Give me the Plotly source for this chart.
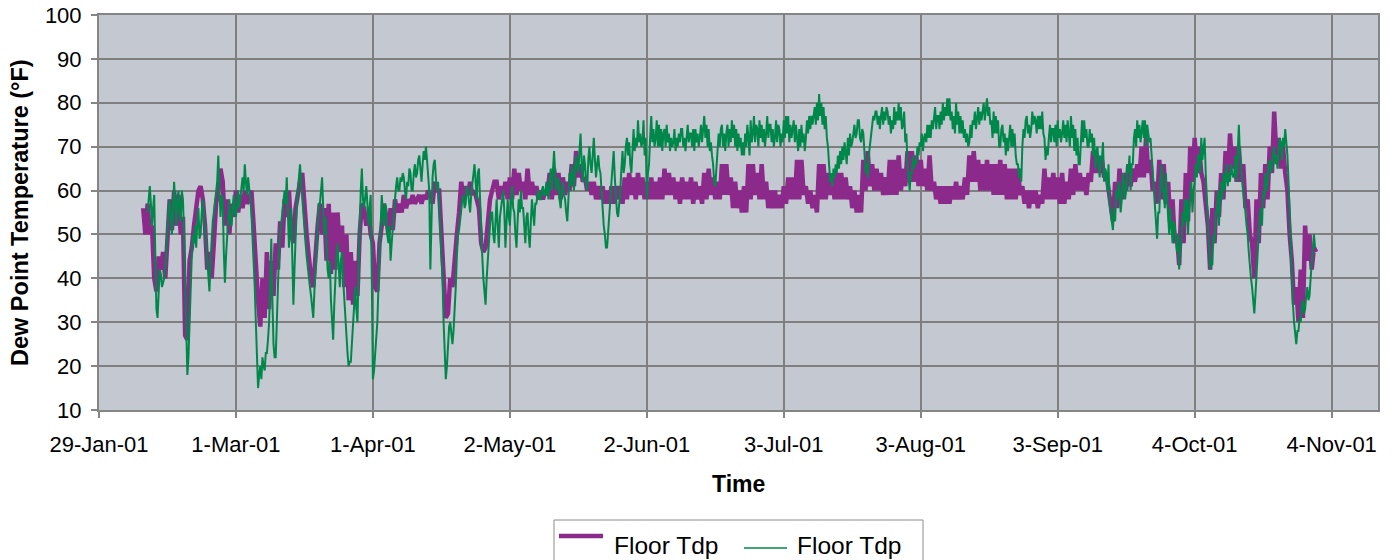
import pandas as pd
import plotly.graph_objects as go

# Two dew point records: the thick trace every 12 hours, the thin one every 6 hours
purple_start = "2001-02-08 00:00"
purple_step = "12h"
green_start = "2001-02-09 00:00"
green_step = "6h"

floor_tdp_purple = [
    56, 50, 57, 50, 52, 40, 37, 45, 42, 46,
    40, 52, 58, 51, 60, 52, 59, 50, 54, 27,
    26, 44, 47, 52, 56, 60, 61, 58, 52, 42,
    46, 40, 48, 57, 60, 65, 62, 52, 58, 50,
    57, 54, 60, 55, 59, 56, 60, 57, 58, 60,
    52, 42, 35, 29, 40, 31, 46, 33, 44, 36,
    48, 42, 53, 47, 58, 54, 60, 50, 48, 56,
    60, 62, 64, 55, 50, 45, 40, 38, 47, 52,
    57, 50, 56, 44, 57, 41, 55, 42, 55, 46,
    52, 38, 50, 35, 46, 34, 44, 36, 50, 57,
    56, 52, 55, 50, 48, 38, 37, 48, 52, 57,
    54, 50, 56, 51, 58, 55, 57, 55, 59, 56,
    58, 57, 59, 57, 58, 59, 57, 59, 58, 60,
    59, 57, 62, 60, 60, 51, 40, 31, 32, 40,
    38, 46, 50, 55, 62, 58, 61, 59, 62, 59,
    60, 58, 56, 48, 46, 47, 52, 58, 60, 62,
    62, 58, 61, 59, 62, 58, 63, 58, 65, 59,
    64, 60, 62, 58, 65, 59, 62, 59, 61, 58,
    60, 58, 60, 59, 64, 58, 65, 59, 64, 58,
    63, 59, 62, 60, 66, 61, 69, 63, 66, 62,
    63, 60, 62, 59, 62, 58, 61, 58, 61, 57,
    60, 57, 61, 57, 61, 58, 61, 57, 63, 58,
    64, 59, 63, 58, 64, 59, 63, 58, 62, 58,
    63, 58, 62, 58, 63, 58, 65, 59, 64, 59,
    63, 58, 62, 57, 63, 58, 62, 58, 63, 57,
    62, 58, 61, 57, 64, 58, 65, 59, 63, 58,
    62, 58, 66, 59, 66, 59, 63, 56, 62, 56,
    60, 55, 61, 55, 66, 58, 66, 59, 64, 58,
    66, 58, 62, 56, 60, 56, 60, 56, 59, 56,
    61, 57, 63, 58, 63, 58, 67, 58, 67, 59,
    61, 57, 60, 56, 59, 55, 66, 58, 66, 58,
    64, 59, 63, 58, 64, 58, 64, 58, 63, 58,
    61, 56, 60, 55, 59, 55, 67, 60, 69, 61,
    66, 60, 65, 60, 64, 59, 63, 59, 67, 59,
    67, 59, 68, 60, 65, 61, 69, 62, 69, 62,
    68, 61, 67, 61, 65, 60, 68, 60, 62, 58,
    61, 57, 61, 57, 61, 57, 61, 58, 62, 58,
    61, 58, 63, 59, 68, 62, 69, 62, 67, 60,
    66, 60, 67, 60, 66, 59, 66, 59, 67, 59,
    66, 58, 65, 58, 65, 58, 65, 59, 61, 57,
    60, 56, 60, 57, 60, 56, 59, 57, 65, 58,
    63, 58, 64, 58, 63, 57, 64, 57, 62, 58,
    65, 59, 66, 60, 64, 60, 63, 59, 64, 62,
    69, 64, 68, 64, 67, 63, 64, 60, 57, 53,
    62, 56, 65, 58, 64, 60, 66, 61, 65, 62,
    66, 63, 70, 63, 72, 64, 67, 60, 62, 57,
    67, 58, 66, 57, 62, 52, 58, 48, 50, 43,
    58, 48, 64, 53, 70, 62, 72, 64, 70, 64,
    62, 56, 52, 42, 56, 48, 60, 54, 64, 58,
    69, 62, 73, 65, 70, 62, 70, 62, 66, 56,
    58, 50, 48, 40, 58, 48, 64, 56, 66, 58,
    70, 64, 78, 68, 72, 65, 70, 64, 60, 50,
    44, 34, 38, 30, 42, 31, 52, 44, 50, 42,
    47, 46,
]

floor_tdp_green = [
    55, 58, 61, 57, 52, 56, 59, 45,
    33, 31, 38, 42, 41, 38, 39, 40,
    42, 47, 52, 56, 58, 53, 50, 56,
    62, 57, 52, 58, 60, 55, 53, 60,
    58, 50, 40, 26, 18, 22, 30, 40,
    45, 50, 48, 52, 47, 53, 56, 49,
    50, 55, 58, 54, 52, 48, 45, 40,
    37, 44, 50, 53, 55, 58, 60, 62,
    68, 60, 54, 59, 58, 46, 39, 45,
    50, 55, 58, 53, 52, 56, 59, 55,
    54, 57, 60, 56, 58, 61, 63, 60,
    66, 62, 59, 63, 61, 58, 55, 50,
    45, 38, 30, 22, 15, 18, 20, 17,
    22, 20, 19, 23, 23, 26, 30, 38,
    49, 35, 25, 22, 22, 30, 40, 46,
    50, 53, 55, 58, 60, 57, 63, 55,
    47, 52, 56, 45, 34, 42, 50, 56,
    60, 64, 66, 62, 58, 55, 52, 48,
    45, 42, 40, 38, 36, 33, 31, 37,
    42, 48, 55, 57, 57, 60, 63, 56,
    50, 54, 45, 42, 40, 44, 35, 30,
    26, 34, 42, 45, 48, 42, 38, 44,
    46, 40, 35, 30, 28, 23, 20, 21,
    21, 25, 30, 34, 38, 33, 30, 42,
    55, 60, 65, 58, 56, 59, 61, 57,
    52, 56, 59, 40, 17, 19, 22, 26,
    30, 38, 45, 55, 59, 55, 52, 57,
    56, 50, 48, 52, 44, 48, 52, 56,
    58, 61, 63, 60, 60, 63, 62, 64,
    63, 60, 58, 62, 61, 65, 64, 60,
    60, 64, 66, 63, 64, 67, 68, 65,
    62, 66, 69, 67, 70, 67, 64, 60,
    42, 55, 63, 66, 67, 63, 60, 62,
    56, 52, 48, 40, 30, 22, 17, 20,
    26, 29, 30, 27, 25, 28, 32, 38,
    45, 50, 51, 54, 55, 58, 59, 56,
    57, 61, 60, 57, 55, 59, 62, 64,
    66, 62, 58, 64, 65, 58, 50, 45,
    40, 36, 34, 40, 45, 50, 52, 55,
    55, 50, 48, 53, 58, 52, 47, 54,
    56, 59, 60, 55, 47, 53, 58, 54,
    52, 57, 61, 56, 55, 50, 47, 53,
    58, 55, 60, 56, 56, 52, 48, 54,
    55, 50, 47, 53, 58, 55, 52, 57,
    57, 59, 60, 58, 58, 60, 61, 59,
    59, 62, 60, 58, 62, 65, 60, 64,
    69, 64, 60, 62, 63, 58, 56, 60,
    62, 59, 58, 55, 53, 58, 64, 61,
    66, 63, 60, 65, 68, 65, 64, 69,
    73, 66, 62, 68, 66, 62, 60, 67,
    70, 66, 64, 68, 72, 67, 63, 66,
    68, 65, 64, 60, 55, 52, 50, 47,
    47, 50, 53, 58, 62, 66, 69, 63,
    58, 55, 54, 57, 60, 65, 69, 64,
    66, 70, 72, 68, 71, 66, 64, 69,
    74, 69, 72, 70, 76, 71, 73, 70,
    71, 76, 68, 72, 58, 64, 66, 72,
    77, 71, 74, 70, 72, 76, 70, 75,
    70, 74, 69, 73, 74, 70, 75, 71,
    73, 69, 72, 70, 71, 74, 69, 72,
    70, 73, 71, 74, 74, 70, 72, 69,
    72, 75, 71, 73, 73, 70, 74, 69,
    74, 71, 73, 70, 72, 75, 71, 74,
    77, 72, 75, 70, 74, 69, 71, 68,
    66, 62, 61, 65, 68, 73, 70, 74,
    75, 70, 73, 69, 73, 75, 70, 74,
    71, 76, 72, 75, 70, 74, 69, 73,
    70, 72, 68, 71, 68, 73, 70, 75,
    72, 68, 76, 71, 73, 77, 71, 75,
    74, 70, 76, 72, 75, 71, 74, 70,
    73, 77, 72, 75, 75, 71, 74, 70,
    72, 76, 71, 75, 74, 70, 73, 71,
    76, 72, 77, 73, 77, 71, 75, 72,
    74, 76, 71, 75, 72, 69, 74, 70,
    75, 71, 73, 69, 72, 76, 73, 77,
    74, 77, 75, 78, 79, 75, 80, 76,
    82, 77, 80, 75, 79, 74, 77, 72,
    70, 66, 62, 64, 61, 65, 63, 66,
    64, 68, 65, 69, 66, 70, 67, 71,
    69, 66, 72, 68, 73, 70, 71, 74,
    75, 72, 73, 76, 76, 72, 71, 74,
    73, 69, 64, 66, 63, 68, 70, 73,
    74, 77, 76, 78, 78, 75, 77, 74,
    77, 79, 75, 78, 76, 79, 78, 75,
    77, 73, 76, 74, 79, 75, 78, 76,
    80, 76, 79, 74, 75, 78, 71, 73,
    66, 62, 60, 64, 64, 68, 65, 67,
    66, 70, 68, 71, 70, 73, 69, 72,
    73, 71, 75, 72, 75, 72, 76, 74,
    76, 79, 74, 77, 77, 74, 78, 75,
    80, 76, 79, 77, 81, 77, 81, 76,
    78, 74, 77, 73, 80, 75, 78, 73,
    77, 73, 76, 72, 74, 71, 73, 70,
    71, 75, 72, 76, 75, 78, 74, 77,
    79, 75, 78, 76, 78, 80, 76, 79,
    81, 77, 79, 75, 76, 72, 78, 73,
    77, 73, 76, 70, 70, 74, 75, 71,
    73, 68, 72, 69, 72, 75, 70, 74,
    70, 73, 68, 66, 66, 63, 65, 62,
    70, 74, 72, 76, 77, 73, 75, 72,
    74, 78, 75, 77, 76, 73, 77, 74,
    77, 74, 78, 73, 72, 67, 70, 68,
    72, 75, 71, 74, 74, 71, 75, 70,
    76, 72, 74, 71, 73, 76, 72, 75,
    71, 76, 73, 70, 77, 72, 75, 69,
    74, 68, 72, 66, 66, 73, 76, 71,
    76, 72, 74, 70, 70, 74, 71, 73,
    68, 72, 65, 69, 70, 66, 63, 68,
    67, 71, 62, 65, 64, 60, 66, 57,
    55, 52, 51, 56, 53, 60, 58, 62,
    60, 55, 58, 64, 62, 58, 60, 66,
    64, 68, 60, 66, 66, 72, 74, 70,
    76, 72, 75, 71, 74, 76, 72, 76,
    70, 75, 73, 71, 72, 68, 66, 62,
    58, 52, 49, 55, 55, 62, 66, 60,
    60, 56, 64, 58, 54, 50, 56, 52,
    48, 53, 52, 49, 46, 50, 42, 47,
    48, 55, 52, 58, 53, 58, 50, 56,
    58, 62, 55, 60, 62, 66, 63, 68,
    68, 64, 72, 67, 70, 72, 64, 58,
    50, 45, 42, 44, 43, 50, 48, 55,
    55, 60, 52, 58, 62, 58, 64, 60,
    63, 66, 61, 64, 62, 66, 64, 63,
    64, 68, 62, 70, 75, 68, 66, 62,
    60, 57, 55, 52, 50, 46, 42, 40,
    38, 34, 32, 36, 42, 47, 50, 54,
    56, 52, 60, 58, 64, 60, 62, 66,
    67, 64, 65, 69, 70, 66, 68, 65,
    68, 72, 71, 67, 72, 70, 74, 71,
    68, 62, 55, 46, 40, 34, 30, 27,
    25, 28, 28, 31, 30, 34, 35, 32,
    33, 36, 38, 35, 36, 40, 44, 48,
    50, 47,
]

tick_dates = ["2001-01-29", "2001-03-01", "2001-04-01", "2001-05-02", "2001-06-02",
              "2001-07-03", "2001-08-03", "2001-09-03", "2001-10-04", "2001-11-04"]
tick_labels = ["29-Jan-01", "1-Mar-01", "1-Apr-01", "2-May-01", "2-Jun-01",
               "3-Jul-01", "3-Aug-01", "3-Sep-01", "4-Oct-01", "4-Nov-01"]
y_ticks = [10, 20, 30, 40, 50, 60, 70, 80, 90, 100]
series_name = "Floor Tdp"

purple_times = pd.date_range(purple_start, periods=len(floor_tdp_purple), freq=purple_step)
green_times = pd.date_range(green_start, periods=len(floor_tdp_green), freq=green_step)

FONT = "Liberation Sans, Arial, sans-serif"
GRID = "#7f7f7f"
AXIS = "#858585"
PURPLE = "#8c2a8c"
GREEN = "#00874a"

# Plot-area box in pixels, used to place the legend drawn below the chart
W, H = 1392, 560
L, R, T, B = 99, 1378, 15, 410


def px(x):
    return (x - L) / (R - L)


def py(y):
    return (B - y) / (B - T)


fig = go.Figure()
fig.add_trace(go.Scatter(
    x=purple_times, y=floor_tdp_purple, mode="lines", name=series_name,
    line=dict(color=PURPLE, width=4.5), showlegend=False,
))
fig.add_trace(go.Scatter(
    x=green_times, y=floor_tdp_green, mode="lines", name=series_name,
    line=dict(color=GREEN, width=2), showlegend=False,
))

legend_shapes = [
    dict(type="rect", xref="paper", yref="paper",
         x0=px(554), x1=px(923), y0=py(520), y1=py(580),
         line=dict(color="#8c8c8c", width=1), fillcolor="white", layer="above"),
    dict(type="line", xref="paper", yref="paper",
         x0=px(559), x1=px(603), y0=py(536), y1=py(536),
         line=dict(color=PURPLE, width=4.5), layer="above"),
    dict(type="line", xref="paper", yref="paper",
         x0=px(744), x1=px(787), y0=py(548), y1=py(548),
         line=dict(color=GREEN, width=1.5), layer="above"),
]

fig.update_layout(
    template="none",
    width=W, height=H,
    margin=dict(l=L, r=W - R, t=T, b=H - B),
    paper_bgcolor="white",
    plot_bgcolor="#c4c9d1",
    font=dict(family=FONT, color="black"),
    showlegend=False,
    xaxis=dict(
        type="date",
        range=["2001-01-29 00:00", "2001-11-14 12:00"],
        tickmode="array", tickvals=tick_dates, ticktext=tick_labels,
        showgrid=True, gridcolor=GRID, gridwidth=1.5,
        showline=True, linecolor=AXIS, linewidth=2, mirror=True,
        ticks="outside", ticklen=6, tickcolor=AXIS, tickwidth=1.5,
        tickfont=dict(family=FONT, size=22, color="black"),
        ticklabelstandoff=8,
        zeroline=False,
    ),
    yaxis=dict(
        range=[10, 100],
        tickmode="array", tickvals=y_ticks,
        showgrid=True, gridcolor=GRID, gridwidth=1.5,
        showline=True, linecolor=AXIS, linewidth=2, mirror=True,
        ticks="outside", ticklen=6, tickcolor=AXIS, tickwidth=1.5,
        tickfont=dict(family=FONT, size=22, color="black"),
        ticklabelstandoff=5,
        zeroline=False,
    ),
    shapes=legend_shapes,
    annotations=[
        dict(text="<b>Time</b>", xref="paper", yref="paper", x=0.5, y=py(484),
             xanchor="center", yanchor="middle", showarrow=False,
             font=dict(family=FONT, size=23, color="black")),
        dict(text="<b>Dew Point Temperature (°F)</b>", xref="paper", yref="paper",
             x=px(20), y=py(213), xanchor="center", yanchor="middle",
             textangle=-90, showarrow=False,
             font=dict(family=FONT, size=23.5, color="black")),
        dict(text=series_name, xref="paper", yref="paper", x=px(612), y=py(545),
             xanchor="left", yanchor="middle", showarrow=False,
             font=dict(family=FONT, size=24.5, color="black")),
        dict(text=series_name, xref="paper", yref="paper", x=px(795), y=py(545),
             xanchor="left", yanchor="middle", showarrow=False,
             font=dict(family=FONT, size=24.5, color="black")),
    ],
)

fig.write_html("out.html")
